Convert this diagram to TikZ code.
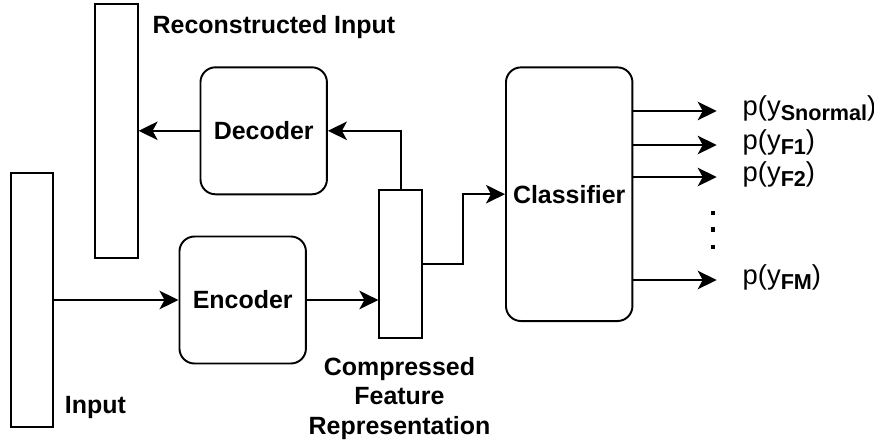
\documentclass[tikz,border=0pt]{standalone}
\usepackage{fontspec}
\usepackage{amsmath}
\setmainfont{Liberation Sans}
\usetikzlibrary{arrows.meta}

% lowered bold index for the class probabilities
\newcommand{\probsub}[1]{\raisebox{-2.8pt}{\fontsize{12.3}{14}\selectfont\bfseries #1}}

\begin{document}
\begin{tikzpicture}[x=0.02cm,y=-0.02cm,line width=1.1pt,
		font=\fontsize{14.2}{17}\selectfont,
		bar/.style={draw,inner sep=0,minimum width=0.854cm},
		block/.style={draw,rounded corners=0.3cm,inner sep=0,minimum width=2.53cm,font=\fontsize{14.2}{17}\selectfont\bfseries},
		arr/.style={-{Stealth[length=0.38cm,width=0.37cm,inset=0.1cm]}},
		lbl/.style={inner sep=0,font=\fontsize{14.2}{17}\selectfont\bfseries},
		prob/.style={anchor=mid west,inner sep=0,font=\fontsize{15.6}{18}\selectfont}]
	\useasboundingbox (0,0) rectangle (874,443);
	% input, reconstruction and code vectors
	\node[bar,minimum height=5.086cm] (inp) at (32,300.2) {};
	\node[bar,minimum height=5.086cm] (rec) at (116.3,130.8) {};
	\node[bar,minimum height=2.966cm] (cmp) at (400.7,264.2) {};
	% network blocks
	\node[block,minimum height=2.54cm] (dec) at (263.7,130.8) {Decoder};
	\node[block,minimum height=2.54cm] (enc) at (242.7,300) {Encoder};
	\node[block,minimum height=5.074cm] (cls) at (569.2,194.2) {Classifier};
	% labels
	\node[lbl,anchor=base west] (recl) at (151.7,33.3) {Reconstructed Input};
	\node[lbl,anchor=base west] (inpl) at (64,413) {Input};
	\node[lbl,align=center,anchor=north] (cmpl) at (399.5,356) {Compressed\\Feature\\Representation};
	% class probabilities
	\node[prob] (py0) at (741.7,111) {p(y\probsub{Snormal})};
	\node[prob] (py1) at (741.7,145) {p(y\probsub{F1})};
	\node[prob] (py2) at (741.7,177) {p(y\probsub{F2})};
	\node[prob] (pym) at (741.7,280) {p(y\probsub{FM})};
	\foreach \y in {212.7,229.3,246.7}
		\fill (710.5,\y-2.2) rectangle +(4.4,4.4);
	% connections
	\draw[arr] (inp.east |- enc.west) -- (enc.west);
	\draw[arr] (enc.east) -- (enc.east -| cmp.west);
	\draw[arr] (cmp.north) |- (dec.east);
	\draw[arr] (dec.west) -- (dec.west -| rec.east);
	\coordinate (turn) at (463.3,264.2);
	\draw[arr] (cmp.east) -- (turn) |- (cls.west);
	\draw[arr] (py0.mid west -| cls.east) -- ([xshift=-0.5cm]py0.mid west);
	\draw[arr] (py1.mid west -| cls.east) -- ([xshift=-0.5cm]py1.mid west);
	\draw[arr] (py2.mid west -| cls.east) -- ([xshift=-0.5cm]py2.mid west);
	\draw[arr] (pym.mid west -| cls.east) -- ([xshift=-0.5cm]pym.mid west);
\end{tikzpicture}
\end{document}
